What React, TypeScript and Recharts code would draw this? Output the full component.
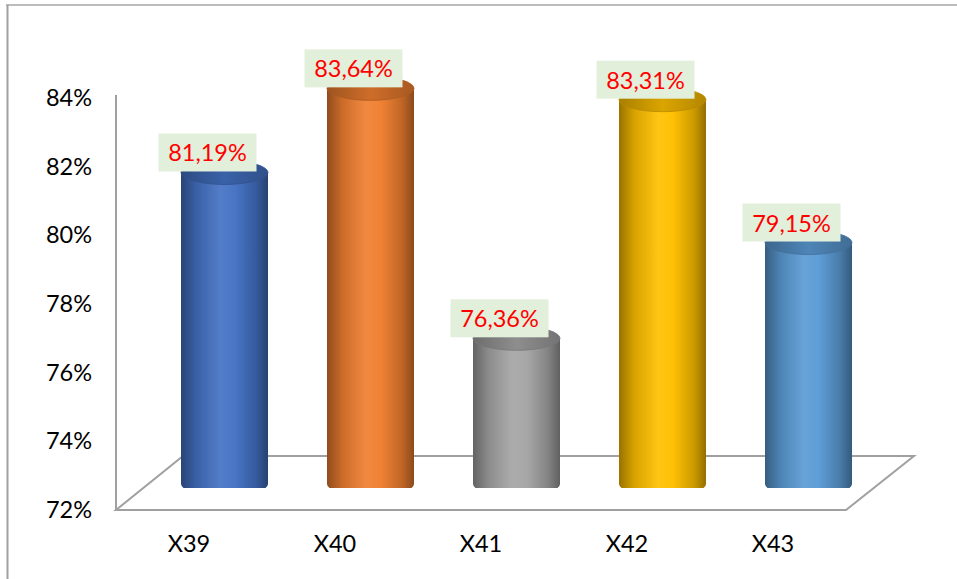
import React from 'react';
import { BarChart, Bar, XAxis, YAxis, LabelList } from 'recharts';

// ── Data ────────────────────────────────────────────────────────────────
const categories = ['X39', 'X40', 'X41', 'X42', 'X43'];
const values = [81.19, 83.64, 76.36, 83.31, 79.15];
const yTicks = [72, 74, 76, 78, 80, 82, 84];
const barColors = ['#4472C4', '#F07F30', '#A5A5A5', '#FFC000', '#5B9BD5'];

const rows = categories.map((name, i) => ({ name, value: values[i] }));

// ── Layout ──────────────────────────────────────────────────────────────
const W = 957;
const H = 579;
const PLOT_LEFT = 151;
const PLOT_RIGHT = 881;
const PLOT_TOP = 76;
const PLOT_BOTTOM = 488;
const X_AXIS_H = 30;
const FONT = 'Lato, "Noto Sans", sans-serif';
const LINE = '#A0A0A0';

// 3D floor: front edge sits below the bar base, back edge above it
const FLOOR_FRONT_Y = PLOT_BOTTOM + 22;
const FLOOR_BACK_Y = PLOT_BOTTOM - 32;
const AXIS_X = PLOT_LEFT - 35;

const fmt = (v: number) => `${v.toFixed(2).replace('.', ',')}%`;

function shade(hex: string, f: number) {
  const n = parseInt(hex.slice(1), 16);
  const ch = [(n >> 16) & 255, (n >> 8) & 255, n & 255].map((c) => {
    const v = f <= 1 ? c * f : c + (255 - c) * (f - 1);
    return Math.max(0, Math.min(255, Math.round(v)));
  });
  return `rgb(${ch.join(',')})`;
}

function Cylinder(props: any) {
  const { x, y, width, height, index } = props;
  const base = barColors[index % barColors.length];
  const rx = width / 2;
  const ry = 12;
  const cx = x + rx;
  const bottom = y + height - 4;
  const bodyId = `cyl-body-${index}`;
  const capId = `cyl-cap-${index}`;
  return (
    <g>
      <defs>
        <linearGradient id={bodyId} x1="0" y1="0" x2="1" y2="0">
          <stop offset="0%" stopColor={shade(base, 0.6)} />
          <stop offset="18%" stopColor={shade(base, 0.85)} />
          <stop offset="45%" stopColor={shade(base, 1.08)} />
          <stop offset="62%" stopColor={shade(base, 1.02)} />
          <stop offset="86%" stopColor={shade(base, 0.8)} />
          <stop offset="100%" stopColor={shade(base, 0.58)} />
        </linearGradient>
        <linearGradient id={capId} x1="0" y1="0" x2="1" y2="0">
          <stop offset="0%" stopColor={shade(base, 0.66)} />
          <stop offset="50%" stopColor={shade(base, 0.86)} />
          <stop offset="100%" stopColor={shade(base, 0.7)} />
        </linearGradient>
      </defs>
      <path
        d={`M${x},${y} L${x},${bottom} A${rx},${ry} 0 0 0 ${x + width},${bottom} L${x + width},${y} Z`}
        fill={`url(#${bodyId})`}
      />
      <ellipse cx={cx} cy={y} rx={rx} ry={ry} fill={`url(#${capId})`} stroke={shade(base, 0.72)} strokeWidth={0.8} />
    </g>
  );
}

function ValueLabel(props: any) {
  const { x, y, width, value } = props;
  const cx = x + width / 2 - 17;
  const cy = y - 20;
  return (
    <g>
      <rect x={cx - 49} y={cy - 19} width={98} height={38} fill="#E2EFDA" />
      <text
        x={cx}
        y={cy}
        textAnchor="middle"
        dominantBaseline="central"
        fill="#FF0000"
        fontSize={23.5}
        fontFamily={FONT}
      >
        {fmt(value)}
      </text>
    </g>
  );
}

function YTick(props: any) {
  const { y, payload } = props;
  return (
    <text
      x={AXIS_X - 24}
      y={y + 21}
      textAnchor="end"
      dominantBaseline="central"
      fill="#000"
      fontSize={23.5}
      fontFamily={FONT}
    >
      {`${payload.value}%`}
    </text>
  );
}

function XTick(props: any) {
  const { x, y, payload } = props;
  return (
    <text
      x={x - 35}
      y={y + 55}
      textAnchor="middle"
      dominantBaseline="central"
      fill="#000"
      fontSize={23.5}
      fontFamily={FONT}
    >
      {payload.value}
    </text>
  );
}

// Chart frame (only top/left edges fall inside the picture) and floor, behind the bars
function Backdrop() {
  const fl = AXIS_X;
  const fr = PLOT_RIGHT - 35;
  const bl = PLOT_LEFT + 32;
  const br = PLOT_RIGHT + 33;
  return (
    <svg width={W} height={H} style={{ position: 'absolute', left: 0, top: 0, display: 'block' }}>
      <line x1={6} y1={5} x2={W} y2={5} stroke="#A6A6A6" strokeWidth={1.5} />
      <line x1={7.5} y1={5} x2={7.5} y2={H} stroke="#A0A0A0" strokeWidth={2} />
      <path
        d={`M${fl},${FLOOR_FRONT_Y} L${fr},${FLOOR_FRONT_Y} L${br},${FLOOR_BACK_Y} L${bl},${FLOOR_BACK_Y} Z`}
        fill="none"
        stroke={LINE}
        strokeWidth={2}
      />
    </svg>
  );
}

// Value-axis wall line drawn on top (it never crosses the bars)
function Overlay() {
  return (
    <svg width={W} height={H} style={{ position: 'absolute', left: 0, top: 0, pointerEvents: 'none' }}>
      <line x1={AXIS_X} y1={PLOT_TOP + 19} x2={AXIS_X} y2={FLOOR_FRONT_Y} stroke={LINE} strokeWidth={2} />
    </svg>
  );
}

export default function App() {
  return (
    <div style={{ position: 'fixed', left: 0, top: 0, width: W, height: H, background: '#fff' }}>
      <Backdrop />
      <div style={{ position: 'absolute', left: 0, top: 0 }}>
        <BarChart
          width={W}
          height={H}
          data={rows}
          margin={{ top: PLOT_TOP, right: W - PLOT_RIGHT, bottom: H - PLOT_BOTTOM - X_AXIS_H, left: 0 }}
          barSize={87}
        >
          <XAxis
            dataKey="name"
            height={X_AXIS_H}
            axisLine={false}
            tickLine={false}
            tickSize={0}
            tickMargin={0}
            tick={<XTick />}
            interval={0}
          />
          <YAxis
            width={PLOT_LEFT}
            domain={[72, 84]}
            ticks={yTicks}
            axisLine={false}
            tickLine={false}
            tickSize={0}
            tickMargin={0}
            tick={<YTick />}
            allowDataOverflow
          />
          <Bar dataKey="value" shape={<Cylinder />} isAnimationActive={false}>
            <LabelList dataKey="value" content={<ValueLabel />} />
          </Bar>
        </BarChart>
      </div>
      <Overlay />
    </div>
  );
}
